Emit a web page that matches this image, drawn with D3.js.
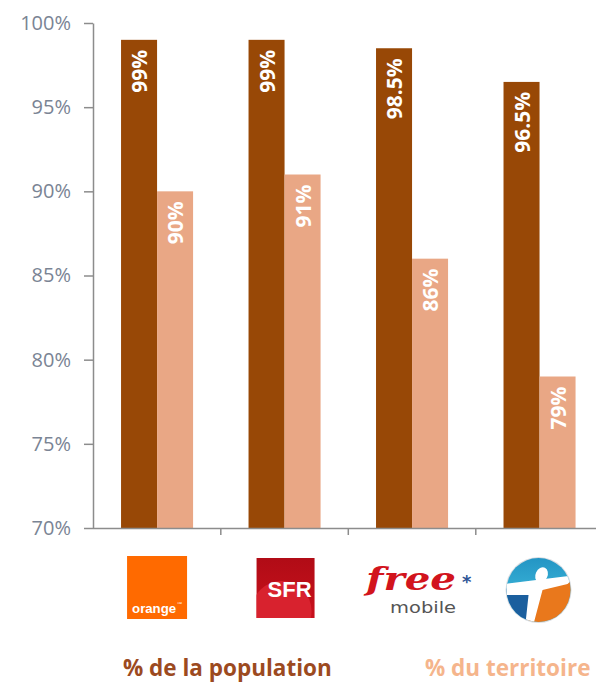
<!DOCTYPE html>
<html>
<head>
<meta charset="utf-8">
<script src="https://cdn.jsdelivr.net/npm/d3@7"></script>
<style>
    body { margin: 0; background: #fff; }
    svg { display: block; }
</style>
</head>
<body>
<div id="chart"></div>
<script>
const WIDTH = 596;
const HEIGHT = 686;

// data
const operators = ["Orange", "SFR", "Free mobile", "Bouygues"];
const population = [99, 99, 98.5, 96.5];
const territoire = [90, 91, 86, 79];
const popLabels = ["99%", "99%", "98.5%", "96.5%"];
const terLabels = ["90%", "91%", "86%", "79%"];
const yTicks = [70, 75, 80, 85, 90, 95, 100];
const legendLabels = ["% de la population", "% du territoire"];

const colors = { pop: "#984806", ter: "#e9a785" };

const margin = {top: 23, left: 93, bottom: 158};

const svg = d3.select("#chart").append("svg")
    .attr("width", WIDTH)
    .attr("height", HEIGHT);

const y = d3.scaleLinear()
    .domain([70, 100])
    .range([528, margin.top]);

const x = d3.scaleBand()
    .domain(operators)
    .range([margin.left, margin.left + 510.6])
    .paddingInner(0.435)
    .paddingOuter(0.22);

const sub = d3.scaleBand()
    .domain(["pop", "ter"])
    .range([0, x.bandwidth()]);

// y axis
const yAxis = d3.axisLeft(y)
    .tickValues(yTicks)
    .tickFormat(d => d + "%")
    .tickSize(9)
    .tickSizeOuter(0)
    .tickPadding(13);

const yG = svg.append("g")
    .attr("transform", "translate(" + margin.left + ",0)")
    .call(yAxis);

yG.select(".domain").attr("stroke", "#8c8c8c").attr("stroke-width", 1.5);
yG.selectAll(".tick line").attr("stroke", "#8c8c8c").attr("stroke-width", 1.5);
yG.selectAll(".tick text")
    .attr("fill", "#7a8494")
    .style("font-family", "'Open Sans', sans-serif")
    .style("font-size", "20px");

// x axis line with ticks between groups
const step = x.step();
const boundaries = operators.map(d => x(d) + x.bandwidth() + step * x.paddingInner() / 2);

const xG = svg.append("g");
xG.append("line")
    .attr("x1", margin.left).attr("x2", WIDTH)
    .attr("y1", y(70) + 0.5).attr("y2", y(70) + 0.5)
    .attr("stroke", "#8c8c8c").attr("stroke-width", 1.5);
xG.selectAll(".xtick").data(boundaries).enter()
    .append("line")
    .attr("class", "xtick")
    .attr("x1", d => d).attr("x2", d => d)
    .attr("y1", y(70)).attr("y2", y(70) + 7)
    .attr("stroke", "#8c8c8c").attr("stroke-width", 1.5);

// bars
const rows = operators.map((op, i) => ({
    op: op,
    values: [
        {key: "pop", value: population[i], label: popLabels[i]},
        {key: "ter", value: territoire[i], label: terLabels[i]}
    ]
}));

const groups = svg.insert("g", "g").selectAll(".group")
    .data(rows).enter()
    .append("g")
    .attr("class", "group")
    .attr("transform", d => "translate(" + x(d.op) + ",0)");

groups.selectAll("rect")
    .data(d => d.values).enter()
    .append("rect")
    .attr("x", d => sub(d.key))
    .attr("width", sub.bandwidth())
    .attr("y", d => y(d.value))
    .attr("height", d => y(70) - y(d.value))
    .attr("fill", d => colors[d.key]);

groups.selectAll("text")
    .data(d => d.values).enter()
    .append("text")
    .attr("transform", d => "translate(" + (sub(d.key) + sub.bandwidth() / 2) + "," + (y(d.value) + 10) + ") rotate(-90)")
    .attr("text-anchor", "end")
    .attr("dominant-baseline", "central")
    .attr("fill", "#fff")
    .style("font-family", "'Open Sans', sans-serif")
    .style("font-weight", "bold")
    .style("font-size", "21px")
    .text(d => d.label);

// logos under each group
const logoY = 589;
const logos = svg.append("g");
const cx = op => x(op) + x.bandwidth() / 2;

// orange
const gO = logos.append("g").attr("transform", "translate(" + cx("Orange") + "," + logoY + ")");
gO.append("rect").attr("x", -30).attr("y", -33).attr("width", 60).attr("height", 63).attr("fill", "#ff6a00");
gO.append("text").attr("x", -25).attr("y", 24)
    .attr("fill", "#fff")
    .attr("textLength", 44).attr("lengthAdjust", "spacingAndGlyphs")
    .style("font-family", "'Liberation Sans', sans-serif")
    .style("font-weight", "bold")
    .style("font-size", "13px")
    .text("orange");
gO.append("text").attr("x", 20).attr("y", 16)
    .attr("fill", "#fff")
    .style("font-size", "5px")
    .text("™");

// SFR
const defs = svg.append("defs");
const sfrGrad = defs.append("linearGradient").attr("id", "sfrGrad")
    .attr("x1", 0).attr("y1", 0).attr("x2", 0).attr("y2", 1);
sfrGrad.append("stop").attr("offset", "0%").attr("stop-color", "#b10c16");
sfrGrad.append("stop").attr("offset", "100%").attr("stop-color", "#c8101c");
defs.append("clipPath").attr("id", "sfrClip")
    .append("rect").attr("x", -29).attr("y", -31).attr("width", 58).attr("height", 60);

const gS = logos.append("g").attr("transform", "translate(" + (cx("SFR") + 1) + "," + logoY + ")");
gS.append("rect").attr("x", -29).attr("y", -31).attr("width", 58).attr("height", 60).attr("fill", "url(#sfrGrad)");
gS.append("circle").attr("cx", -4).attr("cy", 22).attr("r", 30)
    .attr("fill", "#d8222e").attr("clip-path", "url(#sfrClip)");
gS.append("text").attr("x", 26).attr("y", 8)
    .attr("text-anchor", "end")
    .attr("fill", "#fff")
    .style("font-family", "'Liberation Sans', sans-serif")
    .style("font-weight", "bold")
    .style("font-size", "22px")
    .text("SFR");

// free mobile
const gF = logos.append("g").attr("transform", "translate(" + cx("Free mobile") + "," + logoY + ")");
gF.append("text").attr("x", -46).attr("y", 1)
    .attr("fill", "#d2141d")
    .attr("textLength", 90).attr("lengthAdjust", "spacingAndGlyphs")
    .style("font-family", "'DejaVu Serif', serif")
    .style("font-weight", "bold")
    .style("font-style", "italic")
    .style("font-size", "31px")
    .text("free");
gF.append("text").attr("x", -22).attr("y", 24)
    .attr("fill", "#555")
    .attr("textLength", 66).attr("lengthAdjust", "spacingAndGlyphs")
    .style("font-family", "'DejaVu Sans', sans-serif")
    .style("font-size", "15px")
    .text("mobile");
gF.append("text").attr("x", 50).attr("y", -1)
    .attr("fill", "#2e5596")
    .style("font-family", "'DejaVu Sans', sans-serif")
    .style("font-weight", "bold")
    .style("font-size", "18px")
    .text("*");

// bouygues
const bGrad = defs.append("linearGradient").attr("id", "bGrad")
    .attr("x1", 0).attr("y1", 0).attr("x2", 0).attr("y2", 1);
bGrad.append("stop").attr("offset", "0%").attr("stop-color", "#1f8fc0");
bGrad.append("stop").attr("offset", "60%").attr("stop-color", "#3ab4d8");
defs.append("clipPath").attr("id", "bClip")
    .append("circle").attr("r", 32);

const gB = logos.append("g").attr("transform", "translate(" + (cx("Bouygues") - 1) + "," + (logoY + 1) + ")");
gB.append("circle").attr("r", 33).attr("fill", "#d9dde2");
const gBi = gB.append("g").attr("clip-path", "url(#bClip)");
gBi.append("rect").attr("x", -40).attr("y", -40).attr("width", 80).attr("height", 80).attr("fill", "url(#bGrad)");
gBi.append("path").attr("d", "M-40,-2 L-4,0 L-14,40 L-40,40 Z").attr("fill", "#1b5f9e");
gBi.append("path").attr("d", "M-4,0 L40,-10 L40,40 L-14,40 Z").attr("fill", "#e9781c");
gBi.append("path")
    .attr("d", "M-34,-6 L30,-14 Q34,-9 29,-6 L4,0 L-5,34 L-13,33 L-10,5 L-34,5 Z")
    .attr("fill", "#fff");
gB.append("ellipse").attr("cx", 3).attr("cy", -15).attr("rx", 6).attr("ry", 8)
    .attr("transform", "rotate(25,3,-15)")
    .attr("fill", "#fff");

// legend
const legend = svg.append("g");
legend.append("text").attr("x", 123).attr("y", 676)
    .attr("fill", "#9c4a1f")
    .style("font-family", "'Open Sans', sans-serif")
    .style("font-weight", "bold")
    .style("font-size", "22.5px")
    .text(legendLabels[0]);
legend.append("text").attr("x", 425).attr("y", 676)
    .attr("fill", "#f5b58c")
    .style("font-family", "'Open Sans', sans-serif")
    .style("font-weight", "bold")
    .style("font-size", "22.5px")
    .text(legendLabels[1]);
</script>
</body>
</html>
